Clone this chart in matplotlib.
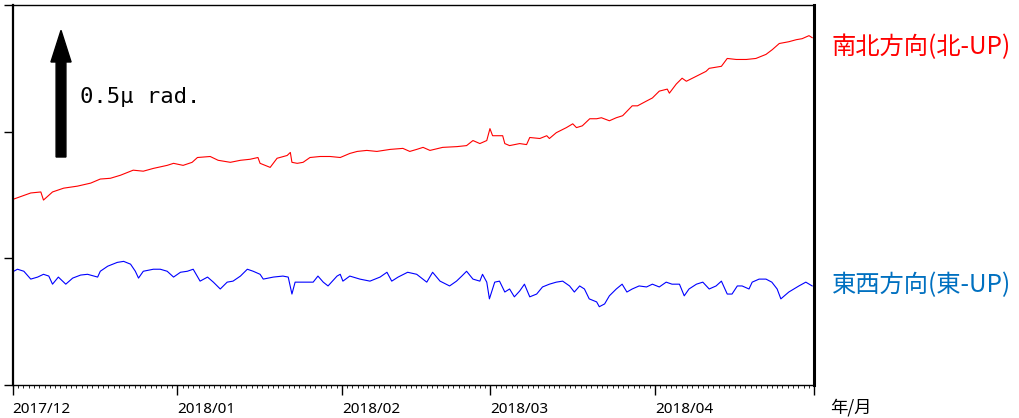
import matplotlib
matplotlib.use('Agg')
import matplotlib.pyplot as plt
import matplotlib.dates as mdates
import pandas as pd

# start of the record, values are days since this date
INICIO = pd.Timestamp('2017-12-01')
FIN = pd.Timestamp('2018-05-01')

# north-south tilt (north up), micro radians
ns_dias = [0.2, 3.4, 5.3, 5.8, 7.5, 9.6, 12.2, 14.7, 16.5, 18.4, 20.3, 22.7, 24.6, 26.5,
           29.1, 30.3, 32.1, 33.8, 34.8, 37.2, 38.7, 41.0, 42.9, 44.7, 46.2, 46.6, 48.5,
           49.8, 51.7, 52.3, 52.6, 53.6, 54.7, 56.0, 57.9, 59.8, 61.7, 63.5, 64.9, 66.7,
           68.6, 71.1, 73.5, 74.8, 76.1, 77.3, 78.6, 81.0, 83.7, 85.5, 86.7, 88.0, 89.3,
           89.9, 90.4, 92.3, 92.7, 93.6, 95.5, 96.8, 97.4, 99.3, 100.6, 101.1, 102.4,
           104.3, 105.5, 106.2, 107.3, 108.7, 110.0, 110.9, 112.4, 113.7, 114.9, 116.7,
           117.7, 119.4, 120.5, 121.8, 123.3, 123.7, 125.0, 126.1, 126.9, 128.8, 130.6,
           131.2, 133.5, 134.6, 136.3, 138.2, 140.0, 141.9, 143.1, 144.4, 146.2, 147.6,
           148.7, 150.0, 150.6]
ns_urad = [0.234, 0.258, 0.262, 0.230, 0.262, 0.277, 0.285, 0.297, 0.313, 0.316, 0.328,
           0.348, 0.344, 0.355, 0.367, 0.375, 0.367, 0.379, 0.398, 0.402, 0.387, 0.379,
           0.387, 0.391, 0.398, 0.375, 0.359, 0.395, 0.406, 0.418, 0.379, 0.375, 0.379,
           0.398, 0.402, 0.402, 0.398, 0.414, 0.422, 0.426, 0.422, 0.430, 0.434, 0.422,
           0.430, 0.438, 0.426, 0.438, 0.441, 0.445, 0.465, 0.453, 0.465, 0.512, 0.484,
           0.484, 0.453, 0.445, 0.453, 0.449, 0.477, 0.473, 0.484, 0.473, 0.496, 0.516,
           0.531, 0.516, 0.523, 0.551, 0.551, 0.555, 0.543, 0.555, 0.563, 0.602, 0.602,
           0.621, 0.633, 0.660, 0.668, 0.652, 0.688, 0.711, 0.699, 0.719, 0.738, 0.750,
           0.758, 0.789, 0.785, 0.785, 0.789, 0.805, 0.824, 0.848, 0.855, 0.863, 0.867,
           0.879, 0.871]

# east-west tilt (east up), micro radians
ew_dias = [0.2, 0.9, 2.1, 3.4, 4.7, 5.8, 6.8, 7.5, 8.6, 10.0, 11.3, 12.8, 14.1, 16.0,
           16.5, 17.9, 19.7, 20.9, 22.2, 23.1, 23.7, 24.6, 26.5, 27.8, 29.1, 30.3, 31.6,
           32.9, 34.0, 35.3, 36.7, 37.8, 39.1, 40.4, 41.5, 42.9, 44.2, 45.3, 46.6, 47.2,
           49.1, 50.9, 51.9, 52.6, 53.2, 54.7, 56.6, 57.5, 58.5, 59.4, 61.1, 61.7, 62.2,
           63.5, 65.4, 67.3, 69.2, 70.5, 71.4, 72.6, 74.4, 76.1, 78.0, 79.1, 80.5, 82.3,
           83.6, 84.6, 85.5, 86.7, 88.0, 88.5, 89.3, 89.8, 90.8, 91.7, 92.7, 93.6, 94.5,
           95.5, 96.4, 97.4, 98.7, 99.8, 101.1, 102.4, 103.6, 104.9, 105.8, 106.8, 107.7,
           108.6, 110.0, 110.5, 111.5, 112.4, 113.7, 114.8, 115.7, 116.7, 118.0, 119.4,
           120.5, 121.8, 123.1, 124.2, 125.6, 126.5, 127.4, 128.8, 130.0, 131.2, 132.5,
           133.5, 134.6, 135.5, 136.5, 137.4, 138.7, 139.3, 140.6, 141.9, 143.0, 144.0,
           144.7, 146.2, 148.1, 149.4, 150.6]
ew_urad = [-0.051, -0.043, -0.051, -0.082, -0.074, -0.063, -0.070, -0.102, -0.074, -0.102,
           -0.078, -0.066, -0.063, -0.074, -0.051, -0.031, -0.016, -0.012, -0.023, -0.051,
           -0.078, -0.051, -0.043, -0.043, -0.051, -0.074, -0.055, -0.051, -0.043, -0.090,
           -0.074, -0.094, -0.121, -0.094, -0.090, -0.070, -0.043, -0.051, -0.063, -0.082,
           -0.074, -0.070, -0.074, -0.141, -0.094, -0.094, -0.094, -0.070, -0.094, -0.109,
           -0.070, -0.063, -0.090, -0.070, -0.082, -0.090, -0.074, -0.055, -0.090, -0.074,
           -0.055, -0.063, -0.094, -0.055, -0.090, -0.109, -0.090, -0.070, -0.051, -0.082,
           -0.090, -0.063, -0.094, -0.160, -0.094, -0.090, -0.133, -0.121, -0.152, -0.129,
           -0.102, -0.152, -0.141, -0.113, -0.102, -0.094, -0.090, -0.109, -0.133, -0.109,
           -0.121, -0.160, -0.172, -0.191, -0.180, -0.148, -0.121, -0.102, -0.133, -0.121,
           -0.109, -0.113, -0.102, -0.113, -0.094, -0.102, -0.102, -0.148, -0.121, -0.102,
           -0.094, -0.121, -0.109, -0.090, -0.141, -0.141, -0.109, -0.109, -0.121, -0.094,
           -0.082, -0.082, -0.094, -0.121, -0.160, -0.133, -0.109, -0.094, -0.109]

meses = pd.date_range('2017-12-01', '2018-05-01', freq='MS')
etiquetas_mes = ['2017/12', '2018/01', '2018/02', '2018/03', '2018/04', '']

ns_fechas = INICIO + pd.to_timedelta(ns_dias, unit='D')
ew_fechas = INICIO + pd.to_timedelta(ew_dias, unit='D')

fig = plt.figure(figsize=(10.19, 4.18), dpi=100)
ax = fig.add_axes([12.7 / 1019, 1 - 385 / 418, (814.3 - 12.7) / 1019, 380 / 418])

ax.plot(ns_fechas, ns_urad, color='#ff0000', linewidth=0.8)
ax.plot(ew_fechas, ew_urad, color='#0000ff', linewidth=0.8)

ax.set_xlim(INICIO, FIN)
ax.set_ylim(-0.5, 1.0)

# scale arrow, 0.5 micro radians long
x_flecha = mdates.date2num(INICIO + pd.Timedelta(days=9.1))
ax.arrow(x_flecha, 0.4, 0, 0.5, width=1.85, head_width=3.8, head_length=0.125,
         length_includes_head=True, fc='black', ec='black')
ax.text(0.084, 0.758, '0.5μ rad.', transform=ax.transAxes, fontsize=16,
        family='DejaVu Sans Mono', va='center', ha='left')

# axes and ticks
ax.set_yticks([-0.5, 0.0, 0.5, 1.0])
ax.set_yticklabels([])
ax.tick_params(axis='y', direction='out', length=6.5, width=1)
ax.set_xticks(meses)
ax.set_xticklabels(etiquetas_mes, fontsize=11, family='Noto Sans')
for lbl in ax.get_xticklabels():
    lbl.set_horizontalalignment('left')
ax.xaxis.set_minor_locator(mdates.DayLocator())
ax.tick_params(axis='x', which='major', direction='out', length=7, width=1, pad=5)
ax.tick_params(axis='x', which='minor', direction='out', length=2, width=0.6)

ax.spines['left'].set_linewidth(1.6)
ax.spines['right'].set_linewidth(2.2)
ax.spines['top'].set_linewidth(1.0)
ax.spines['bottom'].set_linewidth(1.0)

cjk = ['Noto Sans CJK JP', 'DejaVu Sans']
fig.text(832 / 1019, 1 - 47 / 418, '南北方向(北-UP)', color='#ff0000', fontsize=17.5,
         family=cjk, va='center', ha='left')
fig.text(832 / 1019, 1 - 285 / 418, '東西方向(東-UP)', color='#0070c0', fontsize=17.5,
         family=cjk, va='center', ha='left')
fig.text(830 / 1019, 1 - 407 / 418, '年/月', color='black', fontsize=12.5,
         family=cjk, va='center', ha='left')

fig.savefig('out.png', dpi=100)
